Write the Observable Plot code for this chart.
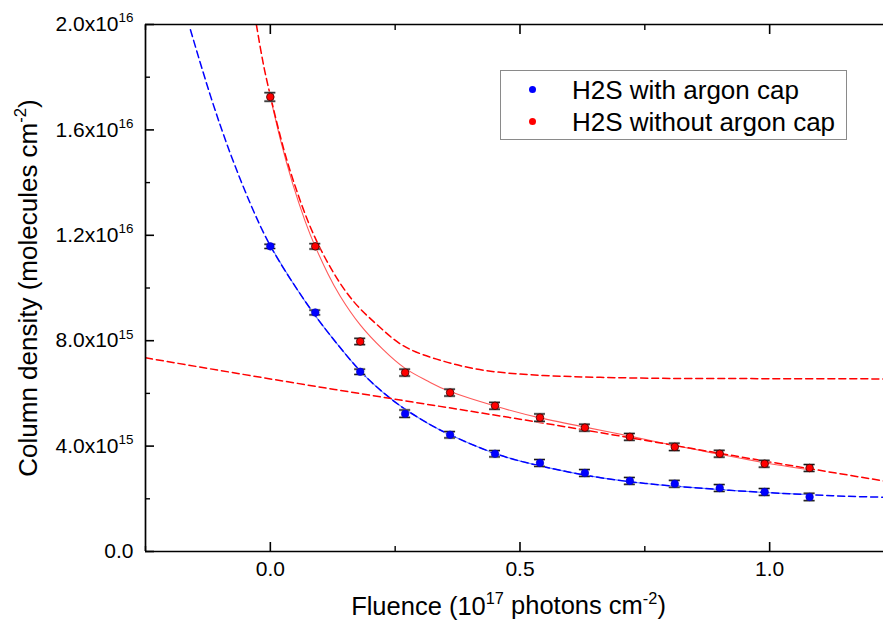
<!DOCTYPE html>
<html><head><meta charset="utf-8">
<script src="https://cdn.jsdelivr.net/npm/d3@7"></script>
<script src="https://cdn.jsdelivr.net/npm/@observablehq/plot@0.6"></script>
<style>
body{margin:0;background:#fff;font-family:"Liberation Sans",Arial,sans-serif;}
#wrap{position:relative;width:883px;height:628px;overflow:hidden;}
#legend{position:absolute;left:500px;top:70px;width:347px;height:70px;border:1px solid #8a8a8a;background:#fff;box-sizing:border-box;font-size:26px;color:#000;}
#legend .row{position:absolute;left:0;height:30px;line-height:30px;white-space:nowrap;}
#legend .dot{position:absolute;left:28px;top:11px;width:7px;height:7px;border-radius:50%;}
#legend .lab{position:absolute;left:71px;top:0;}
</style></head><body><div id="wrap"></div>
<script>
// ---- data (column density in molecules cm^-2, fluence in 1e17 photons cm^-2)
const fluence = [0, 0.09, 0.18, 0.27, 0.36, 0.45, 0.54, 0.63, 0.72, 0.81, 0.90, 0.99, 1.08];
const withCap = [11.58e15, 9.07e15, 6.82e15, 5.23e15, 4.43e15, 3.71e15, 3.36e15, 2.98e15, 2.68e15, 2.57e15, 2.41e15, 2.26e15, 2.07e15];
const withCapErr = [0.8e14, 0.9e14, 1.0e14, 1.4e14, 1.2e14, 1.2e14, 1.3e14, 1.3e14, 1.3e14, 1.3e14, 1.3e14, 1.3e14, 1.4e14];
const withoutCap = [17.25e15, 11.58e15, 7.97e15, 6.79e15, 6.03e15, 5.53e15, 5.08e15, 4.70e15, 4.35e15, 3.97e15, 3.71e15, 3.33e15, 3.17e15];
const withoutCapErr = [1.6e14, 1.0e14, 1.2e14, 1.3e14, 1.3e14, 1.3e14, 1.4e14, 1.3e14, 1.3e14, 1.4e14, 1.3e14, 1.3e14, 1.3e14];

// fitted curve (blue)
const blueFitX = [-0.16, -0.12, -0.08, -0.04, 0, 0.045, 0.09, 0.135, 0.18, 0.225, 0.27, 0.315, 0.36, 0.45, 0.54, 0.63, 0.72, 0.81, 0.90, 0.99, 1.08, 1.15, 1.228];
const blueFitY = [19.8e15, 17.3e15, 15.1e15, 13.2e15, 11.6e15, 10.2e15, 8.95e15, 7.85e15, 6.85e15, 6.05e15, 5.4e15, 4.87e15, 4.43e15, 3.72e15, 3.25e15, 2.9e15, 2.65e15, 2.48e15, 2.35e15, 2.24e15, 2.16e15, 2.1e15, 2.06e15];
// fitted curve (red solid)
const redFitX = [0, 0.02, 0.045, 0.07, 0.09, 0.115, 0.14, 0.18, 0.225, 0.27, 0.315, 0.36, 0.45, 0.54, 0.63, 0.72, 0.81, 0.90, 0.99, 1.08];
const redFitY = [17.25e15, 15.64e15, 13.94e15, 12.52e15, 11.57e15, 10.55e15, 9.69e15, 8.6e15, 7.68e15, 6.95e15, 6.47e15, 6.07e15, 5.52e15, 5.07e15, 4.72e15, 4.38e15, 4.02e15, 3.69e15, 3.37e15, 3.1e15];
// fast component (red dashed, steep)
const redFastX = [-0.028, -0.015, 0, 0.025, 0.05, 0.075, 0.1, 0.125, 0.15, 0.18, 0.22, 0.267, 0.333, 0.427, 0.547, 0.661, 0.8, 1.0, 1.228];
const redFastY = [20.0e15, 18.6e15, 17.3e15, 15.4e15, 13.85e15, 12.55e15, 11.5e15, 10.63e15, 9.9e15, 9.21e15, 8.5e15, 7.8e15, 7.3e15, 6.88e15, 6.68e15, 6.61e15, 6.57e15, 6.56e15, 6.55e15];
// slow component (red dashed, shallow)
const redSlowX = [-0.25, 0, 0.25, 0.5, 0.75, 1.0, 1.228];
const redSlowY = [7.35e15, 6.55e15, 5.78e15, 5.02e15, 4.22e15, 3.40e15, 2.68e15];

// axes
const xDomain = [-0.25, 1.228];
const yDomain = [0, 2.0e16];
const xTicks = [0, 0.5, 1.0];
const xTickLabels = ["0.0", "0.5", "1.0"];
const xMinorTicks = [-0.25, 0.25, 0.75];
const yTicks = [0, 4e15, 8e15, 1.2e16, 1.6e16, 2.0e16];
const yTickLabels = ["0.0", "4.0x10^{15}", "8.0x10^{15}", "1.2x10^{16}", "1.6x10^{16}", "2.0x10^{16}"];
const yMinorTicks = [2e15, 6e15, 1e16, 1.4e16, 1.8e16];
const xTitle = "Fluence (10^{17} photons cm^{-2})";
const yTitle = "Column density (molecules cm^{-2})";
const seriesNames = ["H2S with argon cap", "H2S without argon cap"];
const seriesColors = ["#0000ff", "#ff0000"];

// tables
const blueData = fluence.map((x, i) => ({x, y: withCap[i], e: withCapErr[i]}));
const redData = fluence.map((x, i) => ({x, y: withoutCap[i], e: withoutCapErr[i]}));
const blueFit = blueFitX.map((x, i) => ({x, y: blueFitY[i]}));
const blueFitSolid = blueFit.filter(d => d.x >= 0 && d.x <= 1.08);
const redFit = redFitX.map((x, i) => ({x, y: redFitY[i]}));
const redFast = redFastX.map((x, i) => ({x, y: redFastY[i]}));
const redSlow = redSlowX.map((x, i) => ({x, y: redSlowY[i]}));
const xLab = new Map(xTicks.map((t, i) => [t, xTickLabels[i]]));
const yLab = new Map(yTicks.map((t, i) => [t, yTickLabels[i]]));

const dash = "7,4";
const capHalf = 0.011;
function errMarks(data) {
  return [
    Plot.ruleX(data, {x: "x", y1: d => d.y - d.e, y2: d => d.y + d.e, stroke: "#555", strokeWidth: 1}),
    Plot.ruleY(data, {y: d => d.y + d.e, x1: d => d.x - capHalf, x2: d => d.x + capHalf, stroke: "#aaa", strokeWidth: 2.6}),
    Plot.ruleY(data, {y: d => d.y - d.e, x1: d => d.x - capHalf, x2: d => d.x + capHalf, stroke: "#aaa", strokeWidth: 2.6}),
    Plot.ruleY(data, {y: d => d.y + d.e, x1: d => d.x - capHalf, x2: d => d.x + capHalf, stroke: "#111", strokeWidth: 1}),
    Plot.ruleY(data, {y: d => d.y - d.e, x1: d => d.x - capHalf, x2: d => d.x + capHalf, stroke: "#111", strokeWidth: 1})
  ];
}

const chart = Plot.plot({
  width: 883,
  height: 628,
  marginLeft: 145,
  marginRight: 0,
  marginTop: 24,
  marginBottom: 77,
  style: {fontFamily: "'Liberation Sans', Arial, sans-serif", fontSize: "21px", color: "#000", background: "#fff"},
  x: {domain: xDomain, axis: null},
  y: {domain: yDomain, axis: null},
  marks: [
    // curves
    Plot.line(blueFitSolid, {x: "x", y: "y", stroke: "#6a86ff", strokeWidth: 1.1, curve: "natural", clip: true}),
    Plot.line(redFit, {x: "x", y: "y", stroke: "#ff5a5a", strokeWidth: 1.1, curve: "natural", clip: true}),
    Plot.line(blueFit, {x: "x", y: "y", stroke: seriesColors[0], strokeWidth: 1.5, strokeDasharray: dash, curve: "natural", clip: true}),
    Plot.line(redFast, {x: "x", y: "y", stroke: seriesColors[1], strokeWidth: 1.5, strokeDasharray: dash, curve: "natural", clip: true}),
    Plot.line(redSlow, {x: "x", y: "y", stroke: seriesColors[1], strokeWidth: 1.5, strokeDasharray: dash, curve: "natural", clip: true}),
    // error bars
    ...errMarks(blueData),
    ...errMarks(redData),
    // points
    Plot.dot(blueData, {x: "x", y: "y", r: 3.8, fill: seriesColors[0], stroke: "#0000c0", strokeWidth: 0.6}),
    Plot.dot(redData, {x: "x", y: "y", r: 3.8, fill: seriesColors[1], stroke: "#3a0000", strokeWidth: 0.8}),
    // frame lines
    Plot.ruleX([xDomain[0]], {stroke: "#000", strokeWidth: 1.7}),
    Plot.ruleY([yDomain[0]], {stroke: "#000", strokeWidth: 1.7}),
    Plot.ruleY([yDomain[1]], {stroke: "#000", strokeWidth: 1.7}),
    // axes
    Plot.axisX(xTicks, {anchor: "bottom", tickSize: -9, tickPadding: 19, strokeWidth: 1.6, tickFormat: d => xLab.get(d), fontSize: 21, label: null}),
    Plot.axisX(xMinorTicks, {anchor: "bottom", tickSize: -5, strokeWidth: 1.4, tickFormat: () => "", label: null}),
    Plot.axisX(xTicks, {anchor: "top", tickSize: -9, strokeWidth: 1.6, tickFormat: () => "", label: null}),
    Plot.axisX(xMinorTicks, {anchor: "top", tickSize: -5, strokeWidth: 1.4, tickFormat: () => "", label: null}),
    Plot.axisY(yTicks, {anchor: "left", tickSize: -9, tickPadding: 21, strokeWidth: 1.6, tickFormat: d => yLab.get(d), fontSize: 21, label: null}),
    Plot.axisY(yMinorTicks, {anchor: "left", tickSize: -5, strokeWidth: 1.4, tickFormat: () => "", label: null}),
    // titles
    Plot.text([xTitle], {frameAnchor: "bottom", textAnchor: "middle", dy: 63, dx: -6, fontSize: 25.5, text: d => d}),
    Plot.text([yTitle], {frameAnchor: "left", textAnchor: "middle", dx: -117, rotate: -90, fontSize: 26, text: d => d})
  ]
});

// superscripts: rebuild any text containing ^{...}
d3.select(chart).selectAll("text").each(function() {
  const s = this.textContent;
  if (!s.includes("^{")) return;
  const el = d3.select(this);
  el.text(null);
  const re = /\^\{([^}]*)\}/g;
  let last = 0, m, raised = false;
  while ((m = re.exec(s))) {
    const before = s.slice(last, m.index);
    if (before) el.append("tspan").attr("dy", raised ? "0.42em" : null).text(before), raised = false;
    el.append("tspan").attr("font-size", "0.64em").attr("dy", "-0.66em").text(m[1]);
    raised = true;
    last = re.lastIndex;
  }
  const rest = s.slice(last);
  if (rest) el.append("tspan").attr("dy", raised ? "0.42em" : null).text(rest);
});

const wrap = document.getElementById("wrap");
wrap.appendChild(chart);
const leg = document.createElement("div");
leg.id = "legend";
seriesNames.forEach((name, i) => {
  const row = document.createElement("div");
  row.className = "row";
  row.style.top = (4 + i * 32) + "px";
  row.innerHTML = `<span class="dot" style="background:${seriesColors[i]}"></span><span class="lab">${name}</span>`;
  leg.appendChild(row);
});
wrap.appendChild(leg);
</script>
</body></html>
